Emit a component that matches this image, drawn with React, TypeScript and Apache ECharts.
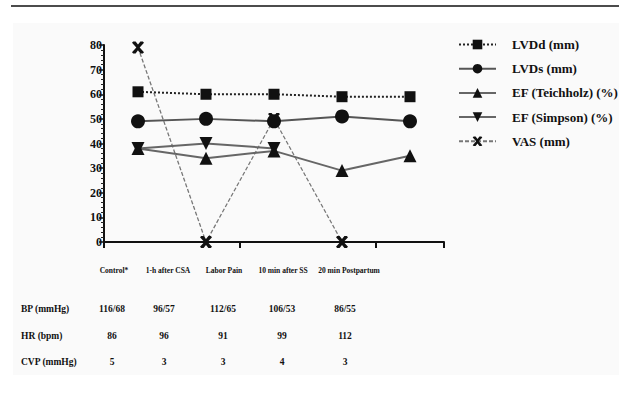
import React, { useEffect, useRef } from "react";
import * as echarts from "echarts";

const categories = ["Control*", "1-h after CSA", "Labor Pain", "10 min after SS", "20 min Postpartum"];
const lvdd = [61, 60, 60, 59, 59];
const lvds = [49, 50, 49, 51, 49];
const efTeich = [38, 34, 37, 29, 35];
const efSimpson: (number | null)[] = [38, 40, 38, null, null];
const vas: (number | null)[] = [79, 0, 50, 0, null];
const yTicks = { min: 0, max: 80, interval: 10 };

const tableRows = ["BP (mmHg)", "HR (bpm)", "CVP (mmHg)"];
const bpValues = ["116/68", "96/57", "112/65", "106/53", "86/55"];
const hrValues = ["86", "96", "91", "99", "112"];
const cvpValues = ["5", "3", "3", "4", "3"];

// layout (pixel positions of the table, not data)
const labelX = [114, 168, 224, 283, 349];
const valueX = [112, 164, 223, 282, 345];
const rowY = [309, 336, 362];

const FONT = "'Liberation Serif', 'Times New Roman', serif";
const crossPath =
  "path://M1,0 L3,0 L5,2.6 L7,0 L9,0 L10,1 L6.4,5 L10,9 L9,10 L7,10 L5,7.4 L3,10 L1,10 L0,9 L3.6,5 L0,1 Z";
const downTri = "path://M0,0 L10,0 L5,9 Z";

export default function App() {
  const ref = useRef<HTMLDivElement>(null);
  useEffect(() => {
    if (!ref.current) return;
    const chart = echarts.init(ref.current, null, { renderer: "svg" });
    const tableValues = [bpValues, hrValues, cvpValues];
    const graphics: any[] = [
      { type: "rect", shape: { x: 13, y: 23, width: 606, height: 352 }, style: { fill: "#fafafa" }, z: -10, silent: true },
      { type: "line", shape: { x1: 11, y1: 6, x2: 619, y2: 6 }, style: { stroke: "#111", lineWidth: 1.6 } },
    ];
    categories.forEach((c, i) => {
      graphics.push({
        type: "text",
        x: labelX[i],
        y: 270,
        style: { text: c, font: `bold 7.5px ${FONT}`, fill: "#111", align: "center", verticalAlign: "middle" },
      });
    });
    tableRows.forEach((r, ri) => {
      graphics.push({
        type: "text",
        x: 21,
        y: rowY[ri],
        style: { text: r, font: `bold 9.5px ${FONT}`, fill: "#111", align: "left", verticalAlign: "middle" },
      });
      tableValues[ri].forEach((v, ci) => {
        graphics.push({
          type: "text",
          x: valueX[ci],
          y: rowY[ri],
          style: { text: v, font: `bold 9.5px ${FONT}`, fill: "#111", align: "center", verticalAlign: "middle" },
        });
      });
    });

    chart.setOption({
      animation: false,
      backgroundColor: "#ffffff",
      grid: { left: 104, top: 45, right: 175, bottom: 164, containLabel: false },
      legend: {
        orient: "vertical",
        left: 453,
        top: 33,
        itemWidth: 37,
        itemHeight: 12,
        itemGap: 11.2,
        textStyle: {
          fontFamily: FONT,
          fontWeight: "bold",
          fontSize: 13,
          lineHeight: 12,
          color: "#111",
          padding: [0, 0, 0, 11],
        },
        data: ["LVDd (mm)", "LVDs (mm)", "EF (Teichholz) (%)", "EF (Simpson) (%)", "VAS (mm)"],
      },
      xAxis: {
        type: "category",
        data: categories,
        boundaryGap: true,
        axisLine: { lineStyle: { color: "#111", width: 2 } },
        axisTick: { show: true, length: 6, lineStyle: { color: "#111", width: 2 } },
        axisLabel: { show: false },
        splitLine: { show: false },
      },
      yAxis: {
        type: "value",
        min: yTicks.min,
        max: yTicks.max,
        interval: yTicks.interval,
        axisLine: { show: true, lineStyle: { color: "#111", width: 2 } },
        axisTick: { show: true, length: 5, lineStyle: { color: "#111", width: 1.5 } },
        minorTick: { show: true, splitNumber: 5, length: 3, lineStyle: { color: "#222", width: 1 } },
        axisLabel: { fontFamily: FONT, fontWeight: "bold", fontSize: 12, color: "#111", margin: 2 },
        splitLine: { show: false },
      },
      series: [
        {
          name: "VAS (mm)",
          type: "line",
          data: vas,
          symbol: crossPath,
          symbolSize: 12,
          itemStyle: { color: "#111" },
          lineStyle: { color: "#777", width: 1.3, type: [4, 2] },
          z: 2,
        },
        {
          name: "LVDd (mm)",
          type: "line",
          data: lvdd,
          symbol: "rect",
          symbolSize: 11,
          itemStyle: { color: "#111" },
          lineStyle: { color: "#222", width: 2, type: [2, 2] },
          z: 3,
        },
        {
          name: "LVDs (mm)",
          type: "line",
          data: lvds,
          symbol: "circle",
          symbolSize: 14,
          itemStyle: { color: "#111" },
          lineStyle: { color: "#555", width: 2 },
          z: 3,
        },
        {
          name: "EF (Teichholz) (%)",
          type: "line",
          data: efTeich,
          symbol: "triangle",
          symbolSize: 13,
          itemStyle: { color: "#111" },
          lineStyle: { color: "#666", width: 2 },
          z: 3,
        },
        {
          name: "EF (Simpson) (%)",
          type: "line",
          data: efSimpson,
          symbol: downTri,
          symbolSize: 13,
          itemStyle: { color: "#111" },
          lineStyle: { color: "#666", width: 2 },
          connectNulls: false,
          z: 3,
        },
      ],
      graphic: graphics,
    });
    return () => chart.dispose();
  }, []);
  return <div ref={ref} style={{ position: "absolute", left: 0, top: 0, width: 619, height: 406 }} />;
}
